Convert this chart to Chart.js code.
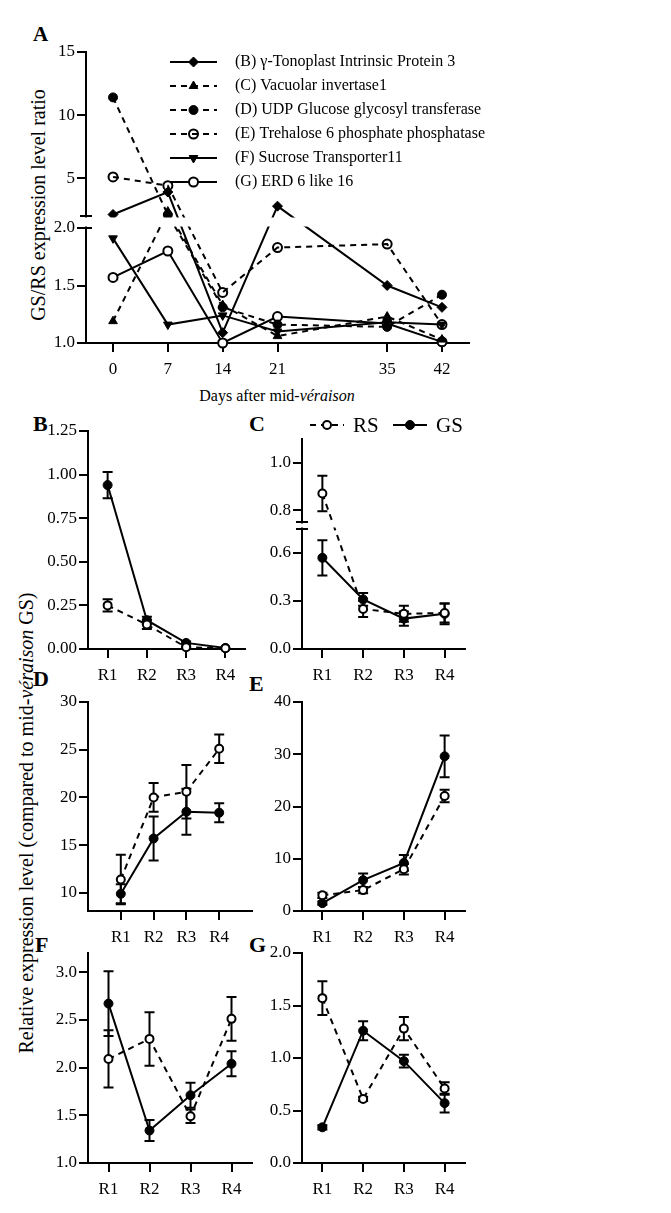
<!DOCTYPE html>
<html>
<head>
<meta charset="utf-8">
<script src="https://cdn.jsdelivr.net/npm/chart.js@4.4.1/dist/chart.umd.min.js"></script>
<style>
html, body { margin: 0; padding: 0; background: #fff; }
body { width: 671px; height: 1213px; position: relative; overflow: hidden;
       font-family: "Liberation Serif", "Times New Roman", serif; color: #000; }
canvas { position: absolute; }
.lbl { position: absolute; font-weight: bold; font-size: 22px; line-height: 1; }
.ttl { position: absolute; line-height: 1; white-space: nowrap; transform: translate(-50%, -50%); }
.rot { transform: translate(-50%, -50%) rotate(-90deg); }
</style>
</head>
<body>
<div class="lbl" style="left:33px;top:24px;font-size:21px">A</div>
<div class="lbl" style="left:33px;top:413px">B</div>
<div class="lbl" style="left:249px;top:413px">C</div>
<div class="lbl" style="left:33px;top:668px">D</div>
<div class="lbl" style="left:249px;top:673px">E</div>
<div class="lbl" style="left:35px;top:934px">F</div>
<div class="lbl" style="left:249px;top:934px">G</div>
<div class="ttl rot" style="left:38px;top:205px;font-size:20px">GS/RS expression level ratio</div>
<div class="ttl" style="left:277px;top:396px;font-size:16px">Days after mid-<i>véraison</i></div>
<div class="ttl rot" style="left:26px;top:823px;font-size:20px">Relative expression level (compared to mid-<i>véraison</i> GS)</div>

<script>
// ---- panel A: GS/RS ratio, days after mid-veraison ----
var days = [0, 7, 14, 21, 35, 42];
var ratioTicks = [1, 1.5, 2, 5, 10, 15];
var ratioTickLabels = ['1.0', '1.5', '2.0', '5', '10', '15'];
var geneNames = [
    '(B) γ-Tonoplast Intrinsic Protein 3',
    '(C) Vacuolar invertase1',
    '(D) UDP Glucose glycosyl transferase',
    '(E) Trehalose 6 phosphate phosphatase',
    '(F) Sucrose Transporter11',
    '(G) ERD 6 like 16'
];
var ratioB = [2.12, 3.9, 1.09, 2.78, 1.5, 1.31];
var ratioC = [1.19, 2.35, 1.33, 1.06, 1.23, 1.03];
var ratioD = [11.4, 2.1, 1.31, 1.16, 1.14, 1.42];
var ratioE = [5.1, 4.4, 1.44, 1.83, 1.86, 1.16];
var ratioF = [1.91, 1.16, 1.24, 1.10, 1.18, 1.16];
var ratioG = [1.57, 1.80, 1.0, 1.23, 1.17, 1.01];

// ---- panels B-G: RS vs GS per ripening stage ----
var rounds = ['R1', 'R2', 'R3', 'R4'];
var tipRS = [0.25, 0.14, 0.01, 0.004],   tipRSerr = [0.035, 0.025, 0.005, 0];
var tipGS = [0.94, 0.165, 0.035, 0.006], tipGSerr = [0.075, 0.02, 0.008, 0];
var vinRS = [0.87, 0.25, 0.22, 0.225],   vinRSerr = [0.075, 0.05, 0.05, 0.06];
var vinGS = [0.57, 0.31, 0.19, 0.22],    vinGSerr = [0.11, 0.04, 0.045, 0.065];
var ugtRS = [11.4, 20.0, 20.6, 25.1],    ugtRSerr = [2.6, 1.5, 2.8, 1.5];
var ugtGS = [9.9, 15.7, 18.5, 18.4],     ugtGSerr = [1.0, 2.3, 2.4, 1.0];
var tppRS = [3.0, 4.0, 8.0, 22.0],       tppRSerr = [0.5, 0.6, 1.0, 1.2];
var tppGS = [1.5, 5.9, 9.2, 29.6],       tppGSerr = [0.3, 1.3, 1.5, 4.0];
var sucRS = [2.09, 2.30, 1.49, 2.51],    sucRSerr = [0.3, 0.28, 0.07, 0.23];
var sucGS = [2.67, 1.34, 1.71, 2.04],    sucGSerr = [0.34, 0.11, 0.13, 0.13];
var erdRS = [1.57, 0.61, 1.28, 0.71],    erdRSerr = [0.16, 0.02, 0.11, 0.06];
var erdGS = [0.34, 1.26, 0.97, 0.57],    erdGSerr = [0.02, 0.09, 0.06, 0.09];

var tickB = [0, 0.25, 0.5, 0.75, 1, 1.25];
var tickC = [0, 0.3, 0.6, 0.8, 1.0];
var tickD = [10, 15, 20, 25, 30];
var tickE = [0, 10, 20, 30, 40];
var tickF = [1, 1.5, 2, 2.5, 3];
var tickG = [0, 0.5, 1, 1.5, 2];

Chart.defaults.font.family = '"Liberation Serif", "Times New Roman", serif';
Chart.defaults.color = '#000';

// linear scale with a gap (broken axis)
var LinearScale = Chart.LinearScale || Chart.scales.LinearScale;
class BrokenScale extends LinearScale {
    getPixelForValue(value) {
        var s = this.options.split;
        if (!s) return super.getPixelForValue(value);
        var h = this.bottom - this.top;
        var lowH = s.lowFrac * h;
        var upH = h - lowH - s.gap;
        if (value <= s.at)
            return this.bottom - (value - this.min) / (s.at - this.min) * lowH;
        return this.bottom - lowH - s.gap - (value - s.at) / (this.max - s.at) * upH;
    }
}
BrokenScale.id = 'broken';
BrokenScale.defaults = LinearScale.defaults;
Chart.register(BrokenScale);

var axisBreak = {
    id: 'axisBreak',
    afterDatasetsDraw: function(chart){
        var y = chart.scales.y, s = y.options.split;
        if (!s) return;
        var a = chart.chartArea, ctx = chart.ctx;
        var yLow = y.getPixelForValue(s.at);
        var yUp = yLow - s.gap;
        ctx.save();
        ctx.fillStyle = '#fff';
        ctx.fillRect(a.left - 3, yUp + 1.5, a.right - a.left + 8, s.gap - 3);
        ctx.strokeStyle = '#000';
        ctx.lineWidth = 2;
        ctx.beginPath();
        ctx.moveTo(a.left - 6, yUp); ctx.lineTo(a.left + 6, yUp);
        ctx.moveTo(a.left - 6, yLow); ctx.lineTo(a.left + 6, yLow);
        ctx.stroke();
        ctx.restore();
    }
};

var errorBars = {
    id: 'errorBars',
    beforeDatasetsDraw: function(chart){
        var ctx = chart.ctx;
        chart.data.datasets.forEach(function(ds, i){
            if (!ds.errors) return;
            var meta = chart.getDatasetMeta(i);
            var ys = chart.scales[meta.yAxisID];
            ctx.save();
            ctx.strokeStyle = '#000';
            ctx.lineWidth = 2;
            meta.data.forEach(function(pt, j){
                var e = ds.errors[j];
                if (!e) return;
                var v = ds.data[j].y;
                var y1 = ys.getPixelForValue(v + e), y2 = ys.getPixelForValue(v - e);
                ctx.beginPath();
                ctx.moveTo(pt.x, y1); ctx.lineTo(pt.x, y2);
                ctx.moveTo(pt.x - 5, y1); ctx.lineTo(pt.x + 5, y1);
                ctx.moveTo(pt.x - 5, y2); ctx.lineTo(pt.x + 5, y2);
                ctx.stroke();
            });
            ctx.restore();
        });
    }
};

function legendSample(ctx, ds, x0, x1, y){
    ctx.save();
    ctx.strokeStyle = '#000';
    ctx.lineWidth = 2;
    ctx.setLineDash(ds.borderDash || []);
    ctx.beginPath(); ctx.moveTo(x0, y); ctx.lineTo(x1, y); ctx.stroke();
    ctx.setLineDash([]);
    ctx.fillStyle = ds.pointBackgroundColor;
    ctx.lineWidth = ds.pointBorderWidth;
    Chart.helpers.drawPoint(ctx, {
        pointStyle: ds.pointStyle, radius: ds.pointRadius,
        rotation: ds.pointRotation || 0, borderWidth: ds.pointBorderWidth
    }, (x0 + x1) / 2, y);
    ctx.restore();
}

var legendA = {
    id: 'legendA',
    afterDraw: function(chart){
        var ctx = chart.ctx, a = chart.chartArea;
        chart.data.datasets.forEach(function(ds, i){
            var y = a.top + 10 + i * 24;
            legendSample(ctx, ds, a.left + 84, a.left + 131, y);
            ctx.save();
            ctx.fillStyle = '#000';
            ctx.font = '16px "Liberation Serif"';
            ctx.textBaseline = 'middle';
            ctx.fillText(ds.label, a.left + 149, y);
            ctx.restore();
        });
    }
};

var legendRSGS = {
    id: 'legendRSGS',
    afterDraw: function(chart){
        var ctx = chart.ctx, a = chart.chartArea;
        var y = a.top - 14;
        var xs = [a.left + 8, a.left + 91];
        chart.data.datasets.forEach(function(ds, i){
            legendSample(ctx, ds, xs[i], xs[i] + 34, y);
            ctx.save();
            ctx.fillStyle = '#000';
            ctx.font = '21px "Liberation Serif"';
            ctx.textBaseline = 'middle';
            ctx.fillText(ds.label, xs[i] + 43, y + 1);
            ctx.restore();
        });
    }
};

function makeCanvas(area, pad){
    var c = document.createElement('canvas');
    c.width = area[2] - area[0] + pad.l + pad.r;
    c.height = area[3] - area[1] + pad.t + pad.b;
    c.style.left = (area[0] - pad.l) + 'px';
    c.style.top = (area[1] - pad.t) + 'px';
    document.body.appendChild(c);
    return c;
}

function axis(pos, size, min, max, ticks, labels){
    return {
        type: 'linear', min: min, max: max,
        afterFit: function(s){ if (pos === 'x') s.height = size; else s.width = size; },
        afterBuildTicks: function(s){ s.ticks = ticks.map(function(v){ return {value: v}; }); },
        grid: { drawOnChartArea: false, drawTicks: true, tickLength: 9, color: '#000', lineWidth: 2 },
        border: { display: true, color: '#000', width: 2 },
        ticks: {
            autoSkip: false, maxRotation: 0, padding: pos === 'x' ? 7 : 2,
            font: { size: 17 }, color: '#000',
            callback: function(v){ return labels[ticks.indexOf(v)]; }
        }
    };
}

function series(label, xs, ys, errs, dashed, style, fill, radius, rot){
    return {
        label: label,
        data: ys.map(function(v, i){ return {x: xs[i], y: v}; }),
        errors: errs,
        borderColor: '#000', borderWidth: 2,
        borderDash: dashed ? [6, 5] : [],
        pointStyle: style, pointRadius: radius, pointRotation: rot || 0,
        pointBackgroundColor: fill, pointBorderColor: '#000',
        pointBorderWidth: fill === '#000' ? 1 : 2,
        tension: 0, fill: false, clip: false
    };
}

function baseOptions(pad, xAxis, yAxis){
    return {
        responsive: false, animation: false, devicePixelRatio: 1, events: [],
        layout: { padding: { top: pad.t, right: pad.r, left: 0, bottom: 0 }, autoPadding: false },
        plugins: { legend: { display: false }, tooltip: { enabled: false } },
        scales: { x: xAxis, y: yAxis }
    };
}

// ---- panel A ----
var padA = { l: 70, t: 20, r: 20, b: 45 };
var canvasA = makeCanvas([86, 52, 469, 343], padA);
var yA = axis('y', padA.l, 1, 15, ratioTicks, ratioTickLabels);
yA.type = 'broken';
yA.split = { at: 2, lowFrac: 115 / 291, gap: 12 };
new Chart(canvasA, {
    type: 'line',
    data: { datasets: [
        series(geneNames[0], days, ratioB, null, false, 'rectRot', '#000', 5),
        series(geneNames[1], days, ratioC, null, true, 'triangle', '#000', 5),
        series(geneNames[2], days, ratioD, null, true, 'circle', '#000', 4.5),
        series(geneNames[3], days, ratioE, null, true, 'circle', 'rgba(0,0,0,0)', 4.5),
        series(geneNames[4], days, ratioF, null, false, 'triangle', '#000', 5, 180),
        series(geneNames[5], days, ratioG, null, false, 'circle', '#fff', 4.5)
    ]},
    options: baseOptions(padA, axis('x', padA.b, -3.45, 45.45, days, days.map(String)), yA),
    plugins: [axisBreak, legendA]
});

// ---- panels B-G ----
var stageX = [1, 2, 3, 4];
function panel(area, pad, xMin, xMax, yMin, yMax, yTicks, digits, rs, rsErr, gs, gsErr, extra){
    var c = makeCanvas(area, pad);
    var yAx = axis('y', pad.l, yMin, yMax, yTicks, yTicks.map(function(v){ return v.toFixed(digits); }));
    var plugins = [errorBars];
    if (extra && extra.split) { yAx.type = 'broken'; yAx.split = extra.split; plugins.push(axisBreak); }
    if (extra && extra.legend) plugins.push(legendRSGS);
    new Chart(c, {
        type: 'line',
        data: { datasets: [
            series('RS', stageX, rs, rsErr, true, 'circle', '#fff', 4),
            series('GS', stageX, gs, gsErr, false, 'circle', '#000', 4.5)
        ]},
        options: baseOptions(pad, axis('x', pad.b, xMin, xMax, stageX, rounds), yAx),
        plugins: plugins
    });
}

var padS = { l: 62, t: 15, r: 15, b: 40 };
panel([88, 431, 245, 649], padS, 0.5, 4.5, 0, 1.25, tickB, 2, tipRS, tipRSerr, tipGS, tipGSerr);
panel([302, 439, 465, 649], { l: 62, t: 35, r: 20, b: 40 }, 0.5, 4.5, 0, 1.1, tickC, 1, vinRS, vinRSerr, vinGS, vinGSerr,
      { split: { at: 0.75, lowFrac: 120 / 210, gap: 7 }, legend: true });
panel([88, 702, 252, 911], padS, 0, 5, 8.1, 30, tickD, 0, ugtRS, ugtRSerr, ugtGS, ugtGSerr);
panel([302, 702, 465, 911], padS, 0.5, 4.5, 0, 40, tickE, 0, tppRS, tppRSerr, tppGS, tppGSerr);
panel([88, 953, 252, 1163], padS, 0.5, 4.5, 1, 3.2, tickF, 1, sucRS, sucRSerr, sucGS, sucGSerr);
panel([302, 953, 465, 1163], padS, 0.5, 4.5, 0, 2, tickG, 1, erdRS, erdRSerr, erdGS, erdGSerr);
</script>
</body>
</html>
